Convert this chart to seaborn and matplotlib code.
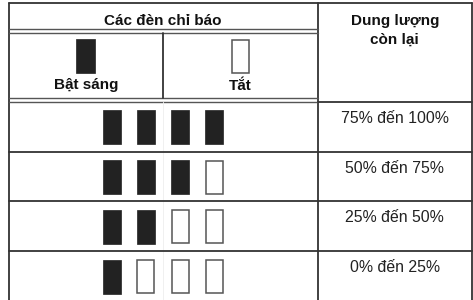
import matplotlib
matplotlib.use("Agg")
import matplotlib.pyplot as plt
from matplotlib.patches import Rectangle
import seaborn as sns
import pandas as pd

# ---- data ----
header_main = "Các đèn chỉ báo"
header_right = "Dung lượng\ncòn lại"
legend_on = "Bật sáng"
legend_off = "Tắt"
levels = ["75% đến 100%", "50% đến 75%", "25% đến 50%", "0% đến 25%"]
lit_counts = [4, 3, 2, 1]
n_lights = 4

df = pd.DataFrame({"level": levels, "lit": lit_counts})

sns.set_theme(style="white")
plt.rcParams['font.family'] = ['Liberation Sans', 'DejaVu Sans']

W, H = 473, 300
fig = plt.figure(figsize=(W / 100, H / 100), dpi=100)
ax = fig.add_axes([0, 0, 1, 1])
ax.set_xlim(0, W)
ax.set_ylim(H, 0)
ax.axis("off")

LC = "#333333"
lw = 1.3
# layout
x_left, x_right, x_mid, x_sub = 8.5, 472, 317.5, 163.3
y_top = 3
row_tops = [101.5, 151.5, 201, 251]
y_bottom = 300

# outer border & main vertical
ax.plot([x_left, x_left], [y_top, y_bottom], color=LC, lw=lw)
ax.plot([x_right, x_right], [y_top, y_bottom], color=LC, lw=lw)
ax.plot([x_left, x_right], [y_top, y_top], color=LC, lw=lw)
ax.plot([x_mid, x_mid], [y_top, y_bottom], color=LC, lw=lw)
# double lines
for y in (29, 33):
    ax.plot([x_left, x_mid], [y, y], color="#555555", lw=1.0)
for y in (97.5, 101.5):
    ax.plot([x_left, x_mid], [y, y], color="#555555", lw=1.0)
ax.plot([x_mid, x_right], [101.5, 101.5], color=LC, lw=lw)
# inner header vertical
ax.plot([x_sub, x_sub], [33, 97.5], color=LC, lw=lw)
ax.plot([x_sub, x_sub], [101.5, y_bottom], color="#f0f0f0", lw=0.7)
# row separators
for y in row_tops[1:]:
    ax.plot([x_left, x_right], [y, y], color=LC, lw=lw)

fs_b = 11
fs = 11.4
# header texts
ax.text((x_left + x_mid) / 2, 25, header_main, ha="center", va="baseline",
        fontsize=fs_b, fontweight="bold", color="#111111")
ax.text((x_mid + x_right) / 2, 25, header_right.split("\n")[0], ha="center",
        va="baseline", fontsize=fs_b, fontweight="bold", color="#111111")
ax.text((x_mid + x_right) / 2, 44, header_right.split("\n")[1], ha="center",
        va="baseline", fontsize=fs_b, fontweight="bold", color="#111111")

rw, rh = 18, 34
FILL = "#222222"
EDGE = "#555555"
# legend in header
cx_on = (x_left + x_sub) / 2
cx_off = (x_sub + x_mid) / 2
ax.add_patch(Rectangle((cx_on - 9.5, 39), 19, 34, facecolor=FILL, edgecolor=FILL, lw=0.5))
ax.add_patch(Rectangle((cx_off - 8.5, 39.5), 17, 33.5, facecolor="white", edgecolor=EDGE, lw=1.1))
ax.text(cx_on, 89.5, legend_on, ha="center", va="baseline", fontsize=fs_b,
        fontweight="bold", color="#111111")
ax.text(cx_off, 89.5, legend_off, ha="center", va="baseline", fontsize=fs_b,
        fontweight="bold", color="#111111")

# rows
pitch = 34.3
cx_group = (x_left + x_mid) / 2
for i, row in df.iterrows():
    top = row_tops[i]
    for k in range(n_lights):
        cx = cx_group + (k - (n_lights - 1) / 2) * pitch
        if k < row["lit"]:
            ax.add_patch(Rectangle((cx - 9, top + 8.5), rw, rh, facecolor=FILL,
                                   edgecolor=FILL, lw=0.5))
        else:
            ax.add_patch(Rectangle((cx - 8.5, top + 9), rw - 1, rh - 1, facecolor="white",
                                   edgecolor=EDGE, lw=1.1))
    ax.text((x_mid + x_right) / 2, top + 21.5, row["level"], ha="center",
            va="baseline", fontsize=fs, color="#222222")

fig.savefig("out.png", dpi=100)
